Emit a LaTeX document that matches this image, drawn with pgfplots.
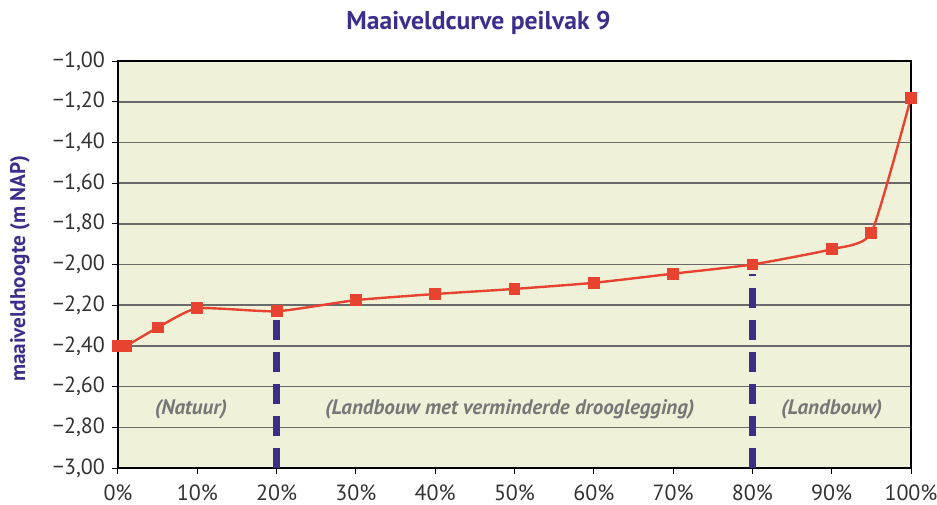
\documentclass[border=0pt]{standalone}
\usepackage{fontspec}
\setmainfont{PT Sans}
\usepackage{pgfplots}
\pgfplotsset{compat=1.18}
\definecolor{bgc}{HTML}{EFF2D8}
\definecolor{ttl}{HTML}{3D2E8C}
\definecolor{dsh}{HTML}{3A2E87}
\definecolor{crv}{HTML}{E84330}
\definecolor{grd}{HTML}{6A6A6A}
\definecolor{ann}{HTML}{777777}
\begin{document}
\begin{tikzpicture}
\begin{axis}[
  scale only axis,
  width=396.5pt, height=203.5pt,
  xmin=0, xmax=100, ymin=-3, ymax=-1,
  axis background/.style={fill=bgc},
  axis line style={black, line width=0.6pt},
  xtick={0,10,...,100},
  xticklabels={0\%,10\%,20\%,30\%,40\%,50\%,60\%,70\%,80\%,90\%,100\%},
  ytick={-3,-2.8,-2.6,-2.4,-2.2,-2,-1.8,-1.6,-1.4,-1.2,-1},
  yticklabels={{−3,00},{−2,80},{−2,60},{−2,40},{−2,20},{−2,00},{−1,80},{−1,60},{−1,40},{−1,20},{−1,00}},
  xtick pos=bottom, ytick pos=left,
  tick align=outside, major tick length=3pt,
  tick style={black, line width=0.5pt},
  ymajorgrids, grid style={grd, line width=0.8pt},
  ticklabel style={font=\fontsize{11}{13}\selectfont, text=black!80},
  xticklabel style={yshift=-2pt},
  title={Maaiveldcurve peilvak 9},
  title style={at={(axis description cs:0.4546,1)}, anchor=center, yshift=13pt, font=\fontsize{12.8}{15}\selectfont\bfseries, text=ttl},
  ylabel={maaiveldhoogte (m NAP)},
  ylabel style={at={(axis description cs:-0.1236,0.49)}, anchor=center, font=\fontsize{10.6}{12}\selectfont\bfseries, text=ttl},
  clip=false,
]
\addplot[dsh, line width=3.5pt, dash pattern=on 10pt off 6pt] coordinates {(20,-3) (20,-2.265)};
\addplot[dsh, line width=3.5pt, dash pattern=on 10pt off 6pt] coordinates {(80,-3) (80,-2.045)};
\addplot[crv, line width=1.2pt, smooth, tension=0.3, mark=square*, mark size=2.7pt, mark options={fill=crv, draw=crv, line width=0pt}]
 coordinates {
 (0,-2.40) (1,-2.40) (5,-2.31) (10,-2.215) (20,-2.23) (30,-2.175) (40,-2.145)
 (50,-2.12) (60,-2.09) (70,-2.045) (80,-2.00) (90,-1.925) (95,-1.845) (100,-1.18)
 };
\node[text=ann, font=\fontsize{10.5}{12}\selectfont\bfseries\itshape] at (axis cs:9.2,-2.71) {(Natuur)};
\node[text=ann, font=\fontsize{10.5}{12}\selectfont\bfseries\itshape] at (axis cs:49.4,-2.71) {(Landbouw met verminderde drooglegging)};
\node[text=ann, font=\fontsize{10.5}{12}\selectfont\bfseries\itshape] at (axis cs:90,-2.71) {(Landbouw)};
\end{axis}
\pgfresetboundingbox
\path ([shift={(-59pt,-18pt)}]current axis.south west) rectangle ([shift={(13pt,30.5pt)}]current axis.north east);
\end{tikzpicture}
\end{document}
